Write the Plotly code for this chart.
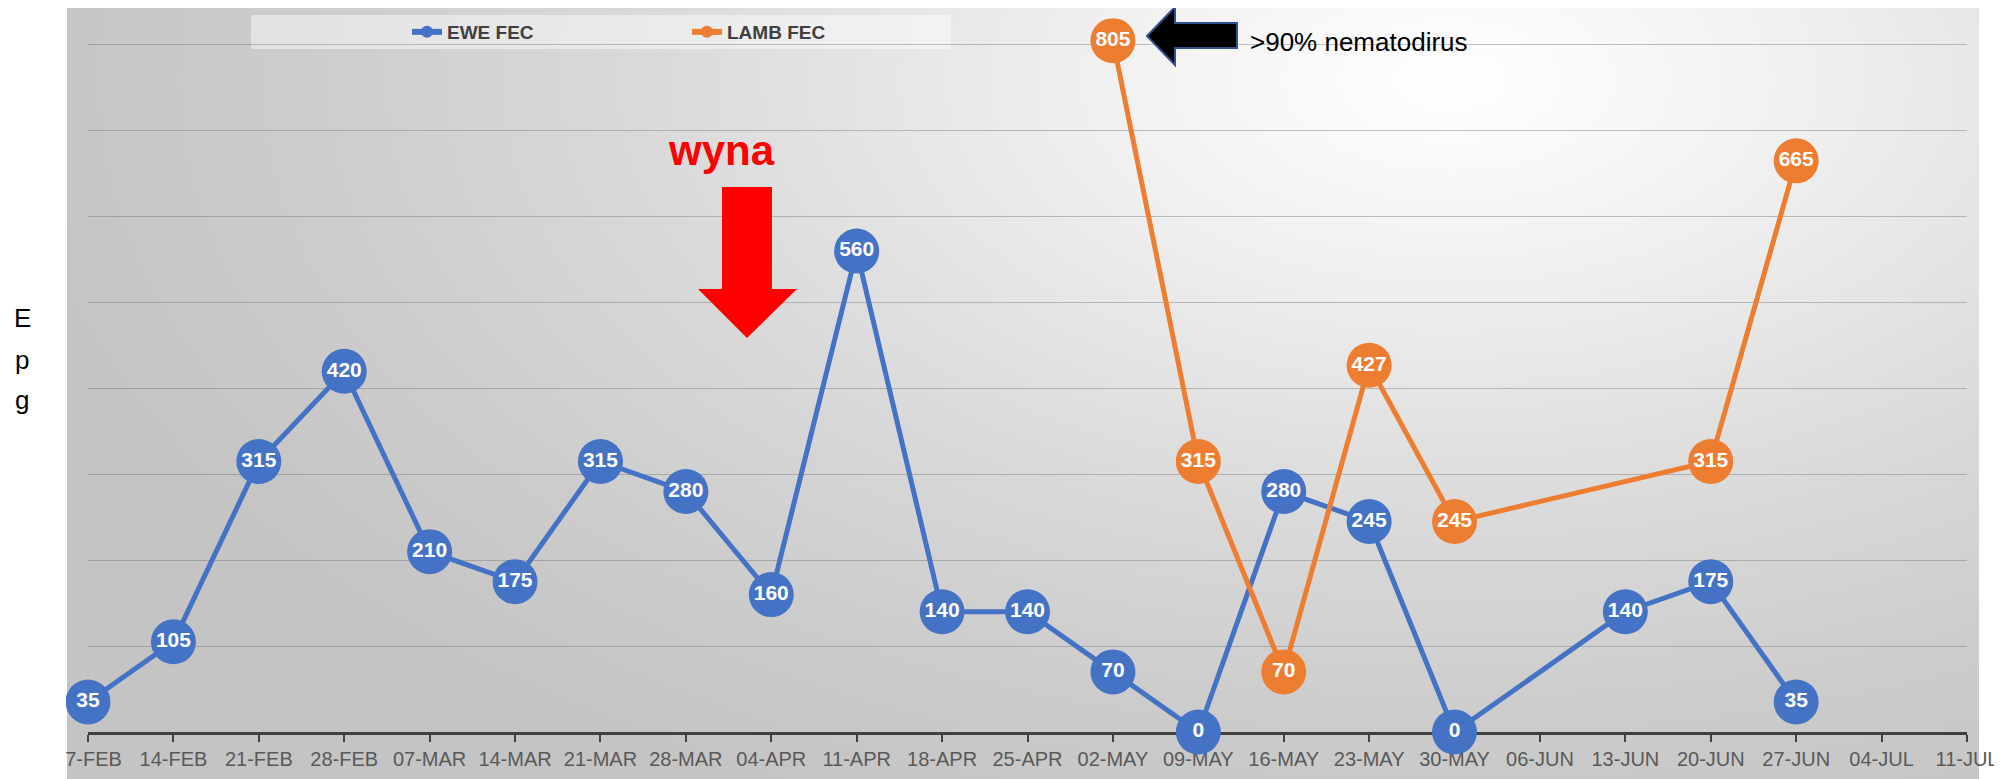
import base64
import plotly.graph_objects as go

# weekly faecal egg counts (epg)
dates = ["07-FEB", "14-FEB", "21-FEB", "28-FEB", "07-MAR", "14-MAR", "21-MAR", "28-MAR",
         "04-APR", "11-APR", "18-APR", "25-APR", "02-MAY", "09-MAY", "16-MAY", "23-MAY",
         "30-MAY", "06-JUN", "13-JUN", "20-JUN", "27-JUN", "04-JUL", "11-JUL"]
ewe_fec = [35, 105, 315, 420, 210, 175, 315, 280, 160, 560, 140, 140, 70, 0, 280, 245,
           0, None, 140, 175, 35, None, None]
lamb_fec = [None, None, None, None, None, None, None, None, None, None, None, None,
            805, 315, 70, 427, 245, None, None, 315, 665, None, None]

# the page body has an 8px margin, so the figure is made 8px smaller
# and all positions below are given in screenshot pixels
O = 8
W, H = 2002 - O, 779 - O
X0, X1, Y1 = 88, 1967, 732          # plot area left/right/bottom in screenshot px
PW, PH = X1 - X0, Y1 - O
L = X0 - O
R = W - L - PW
B = H - PH
BLUE = "#4472C4"
ORANGE = "#ED7D31"


def px(x):
    return (x - X0) / PW


def py(y):
    return (Y1 - y) / PH


def path(points):
    return "M " + " L ".join(f"{px(a):.5f},{py(b):.5f}" for a, b in points) + " Z"


# gradient background like the Excel chart area
svg = """<svg xmlns="http://www.w3.org/2000/svg" width="1912" height="779">
<defs><radialGradient id="g" gradientUnits="userSpaceOnUse" cx="1383" cy="80" r="1450"
 gradientTransform="translate(1383 80) scale(1 0.55) translate(-1383 -80)">
<stop offset="0" stop-color="#ffffff"/><stop offset="0.2" stop-color="#f3f3f3"/>
<stop offset="0.55" stop-color="#dadada"/><stop offset="0.8" stop-color="#cccccc"/>
<stop offset="1" stop-color="#c4c4c4"/></radialGradient></defs>
<rect width="1912" height="779" fill="url(#g)"/></svg>"""
bg_src = "data:image/svg+xml;base64," + base64.b64encode(svg.encode()).decode()

fig = go.Figure()

for name, vals, col in [("EWE FEC", ewe_fec, BLUE), ("LAMB FEC", lamb_fec, ORANGE)]:
    fig.add_trace(go.Scatter(
        x=dates, y=vals, mode="lines+markers+text", name=name, showlegend=False,
        text=["" if v is None else str(v) for v in vals], textposition="middle center",
        textfont=dict(family="Liberation Sans", size=21, color="white", weight="bold"),
        line=dict(color=col, width=5), marker=dict(color=col, size=45),
        connectgaps=True, cliponaxis=False,
    ))
    # small legend entry
    fig.add_trace(go.Scatter(
        x=[None], y=[None], mode="lines+markers", name=name,
        line=dict(color=col, width=6), marker=dict(color=col, size=12),
    ))

fig.update_layout(
    width=W, height=H,
    margin=dict(l=L, r=R, t=0, b=B),
    paper_bgcolor="white", plot_bgcolor="rgba(0,0,0,0)",
    showlegend=True,
    legend=dict(orientation="h", x=px(407), y=py(32), xanchor="left", yanchor="middle",
                entrywidth=235, entrywidthmode="pixels", bgcolor="rgba(0,0,0,0)",
                font=dict(family="Liberation Sans", size=19, color="#404040", weight="bold")),
    xaxis=dict(type="category", range=[0, 22], showgrid=False, showline=True,
               linecolor="#404040", linewidth=3, ticks="outside", ticklen=7, tickwidth=2,
               tickcolor="#404040", layer="below traces",
               tickfont=dict(family="Liberation Sans", size=20, color="#595959")),
    yaxis=dict(range=[0, 843], dtick=100, showticklabels=False, showgrid=True,
               gridcolor="rgba(120,120,120,0.45)", gridwidth=1, zeroline=False),
    images=[dict(source=bg_src, xref="paper", yref="paper", x=px(67), y=py(0),
                 sizex=(1979 - 67) / PW, sizey=779 / PH, xanchor="left", yanchor="top",
                 sizing="stretch", layer="below")],
    shapes=[
        # legend box
        dict(type="rect", xref="paper", yref="paper", x0=px(251), x1=px(951),
             y0=py(49), y1=py(15), fillcolor="rgba(255,255,255,0.45)", line_width=0,
             layer="below"),
        # white strip on the left, outside the chart area
        dict(type="rect", xref="paper", yref="paper", x0=px(-5), x1=px(66),
             y0=-0.1, y1=1.1, fillcolor="white", line_width=0, layer="above"),
        # red treatment arrow
        dict(type="path", xref="paper", yref="paper", layer="above",
             path=path([(722, 187), (772, 187), (772, 289), (797, 289), (747, 338),
                        (698, 289), (722, 289)]),
             fillcolor="#FF0000", line_width=0),
        # black arrow pointing to the 805 count
        dict(type="path", xref="paper", yref="paper", layer="above",
             path=path([(1147, 36), (1175, 7), (1175, 23), (1237, 23), (1237, 48),
                        (1175, 48), (1175, 65)]),
             fillcolor="black", line=dict(color="#2F528F", width=2)),
    ],
    annotations=[
        dict(text="wyna", xref="paper", yref="paper", x=px(721), y=py(150),
             showarrow=False, xanchor="center", yanchor="middle",
             font=dict(family="Liberation Sans", size=42, color="#FF0000", weight="bold")),
        dict(text=">90% nematodirus", xref="paper", yref="paper", x=px(1248), y=py(42),
             showarrow=False, xanchor="left", yanchor="middle",
             font=dict(family="Liberation Sans", size=26, color="black")),
        dict(text="E", xref="paper", yref="paper", x=px(22), y=py(318), showarrow=False,
             xanchor="center", yanchor="middle",
             font=dict(family="Liberation Sans", size=26, color="black")),
        dict(text="p", xref="paper", yref="paper", x=px(22), y=py(360), showarrow=False,
             xanchor="center", yanchor="middle",
             font=dict(family="Liberation Sans", size=26, color="black")),
        dict(text="g", xref="paper", yref="paper", x=px(22), y=py(400), showarrow=False,
             xanchor="center", yanchor="middle",
             font=dict(family="Liberation Sans", size=26, color="black")),
    ],
)

fig.write_html("out.html")
